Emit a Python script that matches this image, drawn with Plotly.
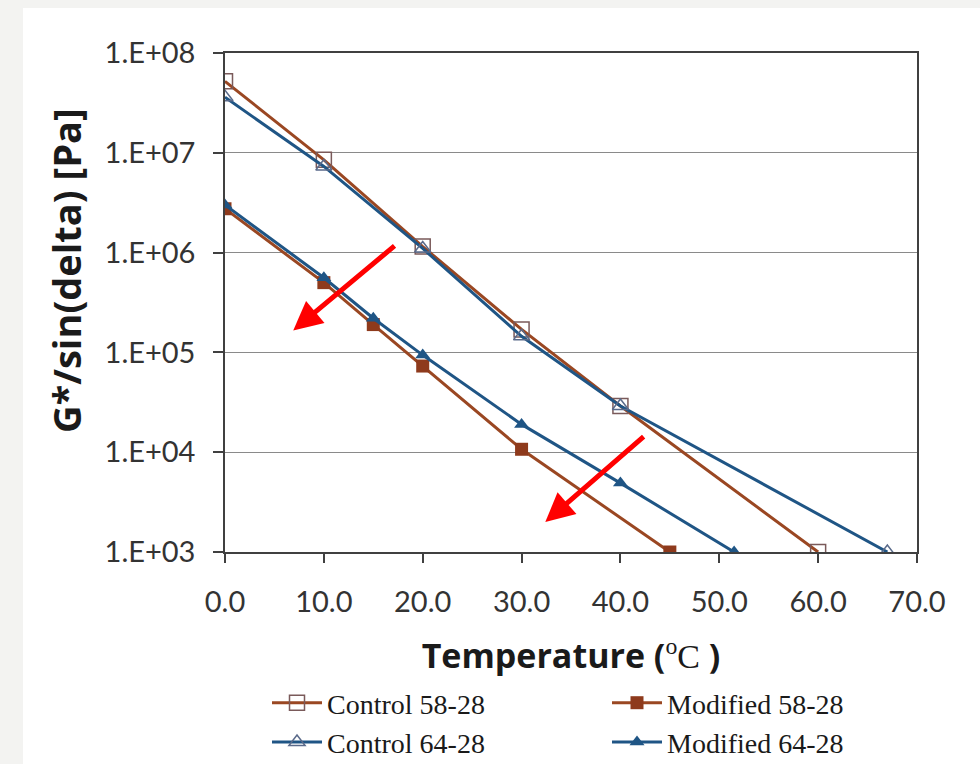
import plotly.graph_objects as go

# ---- data ----
temp_c58 = [0, 10, 20, 30, 40, 60]
g_c58 = [5.2e7, 8.5e6, 1.15e6, 1.7e5, 2.9e4, 1.0e3]

temp_m58 = [0, 10, 15, 20, 30, 45]
g_m58 = [2.75e6, 5.0e5, 1.9e5, 7.3e4, 1.07e4, 1.0e3]

temp_c64 = [0, 10, 20, 30, 40, 67]
g_c64 = [3.6e7, 7.3e6, 1.1e6, 1.45e5, 2.9e4, 1.0e3]

temp_m64 = [0, 10, 15, 20, 30, 40, 51.5]
g_m64 = [3.0e6, 5.6e5, 2.2e5, 9.4e4, 1.9e4, 4.9e3, 1.0e3]

x_ticks = [0, 10, 20, 30, 40, 50, 60, 70]
x_ticktext = ["0.0", "10.0", "20.0", "30.0", "40.0", "50.0", "60.0", "70.0"]
y_ticks = [1e3, 1e4, 1e5, 1e6, 1e7, 1e8]
y_ticktext = ["1.E+03", "1.E+04", "1.E+05", "1.E+06", "1.E+07", "1.E+08"]

BROWN = "#9A4722"
BROWN_DARK = "#8E3A1C"
BLUE = "#1F5585"

fig = go.Figure()
fig.add_trace(go.Scatter(
    x=temp_c58, y=g_c58, name="Control 58-28", mode="lines+markers", legend="legend",
    line=dict(color=BROWN, width=3),
    marker=dict(symbol="square-open", size=15, color="#7a5a5a", line=dict(width=1.5))))
fig.add_trace(go.Scatter(
    x=temp_m58, y=g_m58, name="Modified 58-28", mode="lines+markers", legend="legend2",
    line=dict(color=BROWN, width=3),
    marker=dict(symbol="square", size=13, color=BROWN_DARK)))
fig.add_trace(go.Scatter(
    x=temp_c64, y=g_c64, name="Control 64-28", mode="lines+markers", legend="legend",
    line=dict(color=BLUE, width=3),
    marker=dict(symbol="triangle-up-open", size=14, color="#5a6a8a", line=dict(width=1.5))))
fig.add_trace(go.Scatter(
    x=temp_m64, y=g_m64, name="Modified 64-28", mode="lines+markers", legend="legend2",
    line=dict(color=BLUE, width=3),
    marker=dict(symbol="triangle-up", size=13, color=BLUE)))

# red arrows (data coordinates; y in log10 units)
arrows = [
    dict(x=6.9, y=5.22, ax=17.3, ay=6.08),
    dict(x=32.4, y=3.30, ax=42.5, ay=4.17),
]
for a in arrows:
    fig.add_annotation(x=a["x"], y=a["y"], ax=a["ax"], ay=a["ay"],
                       xref="x", yref="y", axref="x", ayref="y",
                       text="", showarrow=True, arrowhead=2, arrowsize=1.15,
                       arrowwidth=5, arrowcolor="#FF0000")

# y-axis title (placed as in the reference, slightly above centre)
fig.add_annotation(text="<b>G*/sin(delta) [Pa]</b>", textangle=-90,
                   xref="paper", yref="paper",
                   x=(66 - 225) / 692, y=(552 - 271) / 499,
                   xanchor="center", yanchor="middle", showarrow=False,
                   font=dict(size=38, family="Open Sans, sans-serif", color="#1a1a1a"))

# white card on a light grey page
fig.add_shape(type="rect", xref="paper", yref="paper",
              x0=(23 - 225) / 692, x1=1.2, y0=-0.5, y1=(552 - 8) / 499,
              fillcolor="white", line=dict(width=0), layer="below")

legend_font = dict(family="Liberation Serif, serif", size=28, color="#1a1a1a")
fig.update_layout(
    width=980, height=764,
    margin=dict(l=225, r=63, t=53, b=212, autoexpand=False),
    paper_bgcolor="#F3F3F1",
    plot_bgcolor="white",
    font=dict(family="Lato, sans-serif", color="#262626"),
    showlegend=True,
    legend=dict(orientation="v", x=(267 - 225) / 692, xanchor="left",
                y=(552 - 678) / 499, yanchor="top",
                font=legend_font, bgcolor="rgba(0,0,0,0)", tracegroupgap=0,
                itemwidth=50),
    legend2=dict(orientation="v", x=(607 - 225) / 692, xanchor="left",
                 y=(552 - 678) / 499, yanchor="top",
                 font=legend_font, bgcolor="rgba(0,0,0,0)", tracegroupgap=0,
                 itemwidth=50),
)

fig.update_xaxes(
    range=[0, 70], tickvals=x_ticks, ticktext=x_ticktext,
    showgrid=False, zeroline=False,
    showline=True, linecolor="#404040", linewidth=1.5, mirror=True,
    ticks="outside", ticklen=9, tickcolor="#404040", tickwidth=1.5,
    tickfont=dict(size=29, family="Lato, sans-serif", color="#333333"),
    ticklabelstandoff=14,
    title=dict(text="<b>Temperature (</b><span style='font-family:Liberation Serif'><sup>o</sup>C</span><b> )</b>",
               font=dict(size=34, family="Open Sans, sans-serif", color="#1a1a1a"), standoff=28),
)
fig.update_yaxes(
    type="log", range=[3, 8], tickvals=y_ticks, ticktext=y_ticktext,
    showgrid=True, gridcolor="#8a8a8a", gridwidth=1,
    showline=True, linecolor="#404040", linewidth=1.5, mirror=True,
    ticks="outside", ticklen=10, tickcolor="#404040", tickwidth=1.5,
    tickfont=dict(size=29, family="Lato, sans-serif", color="#333333"),
    ticklabelstandoff=12,
)

fig.write_html("out.html")
